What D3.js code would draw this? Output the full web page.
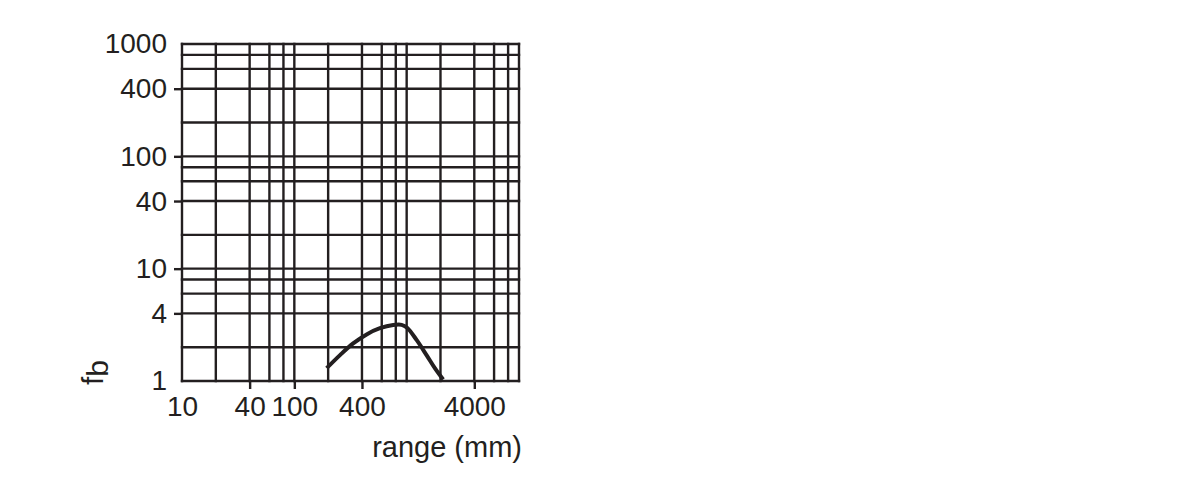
<!DOCTYPE html>
<html>
<head>
<meta charset="utf-8">
<script src="https://cdn.jsdelivr.net/npm/d3@7"></script>
<style>
  html, body { margin: 0; padding: 0; background: #fff; }
  svg { display: block; }
  text { font-family: "Liberation Sans", Arial, Helvetica, sans-serif; fill: #231f20; }
</style>
</head>
<body>
<svg id="chart" width="1199" height="496"></svg>
<script>
// ---- data ----
const xTickValues = [10, 40, 100, 400, 4000];
const xTickLabels = ["10", "40", "100", "400", "4000"];
const yTickValues = [1, 4, 10, 40, 100, 400, 1000];
const yTickLabels = ["1", "4", "10", "40", "100", "400", "1000"];
const xGridValues = [10, 20, 40, 60, 80, 100, 200, 400, 600, 800, 1000, 2000, 4000, 6000, 8000, 10000];
const yGridValues = [1, 2, 4, 6, 8, 10, 20, 40, 60, 80, 100, 200, 400, 600, 800, 1000];
const curveRange = [194, 255, 334, 440, 578, 759, 902, 1009, 1225, 1503, 1782, 2113];
const curveFb    = [1.30, 1.70, 2.16, 2.60, 2.95, 3.15, 3.16, 2.98, 2.32, 1.70, 1.30, 1.03];
const xTitle = "range (mm)";

// ---- layout ----
const ink = "#231f20";
const plot = { left: 182, right: 519, top: 44, bottom: 381 };

const svg = d3.select("#chart");

const x = d3.scaleLog().domain([10, 10000]).range([plot.left, plot.right]);
const y = d3.scaleLog().domain([1, 1000]).range([plot.bottom, plot.top]);

// grid
const grid = svg.append("g").attr("stroke", ink).attr("stroke-width", 2.4).attr("fill", "none");
grid.selectAll("line.v").data(xGridValues).join("line")
  .attr("class", "v")
  .attr("x1", d => x(d)).attr("x2", d => x(d))
  .attr("y1", plot.top - 1.2).attr("y2", plot.bottom + 1.2);
grid.selectAll("line.h").data(yGridValues).join("line")
  .attr("class", "h")
  .attr("y1", d => y(d)).attr("y2", d => y(d))
  .attr("x1", plot.left - 1.2).attr("x2", plot.right + 1.2);

// left axis
const yAxis = d3.axisLeft(y)
  .tickValues(yTickValues)
  .tickFormat((d, i) => yTickLabels[i])
  .tickSize(8)
  .tickPadding(7);
const gy = svg.append("g").attr("transform", `translate(${plot.left},0)`).call(yAxis);
gy.select(".domain").remove();
gy.selectAll(".tick line").attr("stroke", ink).attr("stroke-width", 2.4)
  .attr("display", d => (d === 1 || d === 1000) ? "none" : null);
gy.selectAll(".tick text").attr("font-size", 28).attr("fill", ink)
  .attr("font-family", "Liberation Sans, Arial, sans-serif");

// bottom axis
const xAxis = d3.axisBottom(x)
  .tickValues(xTickValues)
  .tickFormat((d, i) => xTickLabels[i])
  .tickSize(8)
  .tickPadding(7);
const gx = svg.append("g").attr("transform", `translate(0,${plot.bottom})`).call(xAxis);
gx.select(".domain").remove();
gx.selectAll(".tick line").attr("stroke", ink).attr("stroke-width", 2.4)
  .attr("display", d => d === 10 ? "none" : null);
gx.selectAll(".tick text").attr("font-size", 28).attr("fill", ink)
  .attr("font-family", "Liberation Sans, Arial, sans-serif");

// curve
const pts = curveRange.map((r, i) => [r, curveFb[i]]);
const line = d3.line().x(d => x(d[0])).y(d => y(d[1])).curve(d3.curveCatmullRom.alpha(0.5));
svg.append("path").datum(pts)
  .attr("d", line)
  .attr("fill", "none")
  .attr("stroke", ink)
  .attr("stroke-width", 4)
  .attr("stroke-linecap", "butt");

// x title
svg.append("text")
  .attr("x", 522).attr("y", 457)
  .attr("text-anchor", "end")
  .attr("font-size", 29)
  .text(xTitle);

// y title: f with subscript b, rotated
const yt = svg.append("text")
  .attr("transform", "translate(103,385) rotate(-90)")
  .attr("text-anchor", "start")
  .attr("font-size", 30);
yt.append("tspan").text("f");
yt.append("tspan").attr("dy", 5).text("b");
</script>
</body>
</html>
